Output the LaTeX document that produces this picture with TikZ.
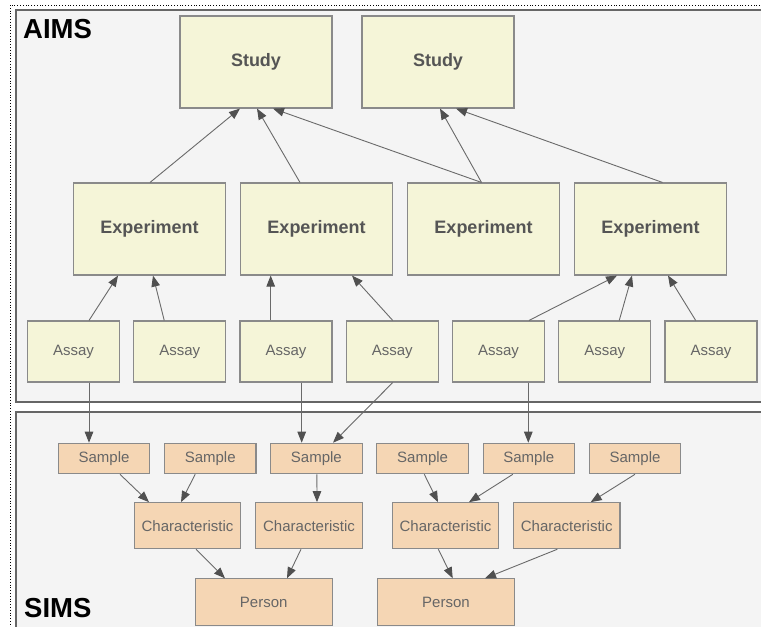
\documentclass[tikz,border=0pt]{standalone}
\usepackage{fontspec}
\setmainfont{Liberation Sans}
\usetikzlibrary{arrows.meta}
\definecolor{panelbg}{HTML}{F4F4F4}
\definecolor{panelline}{HTML}{666666}
\definecolor{aimsfill}{HTML}{F5F5D8}
\definecolor{simsfill}{HTML}{F5D6B4}
\definecolor{boxline}{HTML}{8A8A8A}
\definecolor{boxtext}{HTML}{555555}
\definecolor{linkline}{HTML}{6A6A6A}
\definecolor{linkhead}{HTML}{505050}
\tikzset{
  panel/.style={fill=panelbg, draw=panelline, line width=1.6pt},
  panellabel/.style={anchor=base west, inner sep=0pt, text=black,
    font=\fontsize{27.5}{30}\selectfont\bfseries},
  bigbox/.style={draw=boxline, line width=1.1pt, fill=aimsfill, text=boxtext,
    minimum width=152, minimum height=92, inner sep=0pt,
    font=\fontsize{18}{20}\selectfont\bfseries},
  assaybox/.style={draw=boxline, line width=1.1pt, fill=aimsfill, text=boxtext!90!white,
    minimum width=92, minimum height=61, inner sep=0pt,
    font=\fontsize{15}{17}\selectfont},
  simsbox/.style={draw=boxline, line width=1.1pt, fill=simsfill, text=boxtext!90!white,
    inner sep=0pt, font=\fontsize{15}{17}\selectfont},
  samplebox/.style={simsbox, minimum width=91.5, minimum height=30.5},
  charbox/.style={simsbox, minimum width=106.5, minimum height=46},
  personbox/.style={simsbox, minimum width=137, minimum height=46.3},
  link/.style={draw=linkline, line width=0.9pt,
    -{Triangle[length=11pt, width=8.5pt, fill=linkhead, color=linkhead]}},
}
\begin{document}
\begin{tikzpicture}[x=1pt, y=-1pt]
\useasboundingbox (0,0) rectangle (761,627);
\begin{scope}
\clip (0,0) rectangle (761,627);
\fill[white] (0,0) rectangle (761,627);
% outer dotted frame
\draw[black, line width=0.8pt, dotted] (10,5) rectangle (780,660);
% the two panels
\draw[panel] (16,10) rectangle (790,402);
\draw[panel] (16,412) rectangle (790,660);
\end{scope}
\node[panellabel] (aims) at (23,38) {AIMS};
\node[panellabel] (sims) at (24,617) {SIMS};

% studies
\node[bigbox] (st1) at (256,62) {Study};
\node[bigbox] (st2) at (438,62) {Study};

% experiments
\node[bigbox] (ex1) at (149.5,229) {Experiment};
\node[bigbox] (ex2) at (316.5,229) {Experiment};
\node[bigbox] (ex3) at (483.5,229) {Experiment};
\node[bigbox] (ex4) at (650.5,229) {Experiment};

% assays
\foreach \i/\x in {1/73.5, 2/179.75, 3/286, 4/392.25, 5/498.5, 6/604.75, 7/711}
  \node[assaybox] (as\i) at (\x,351.5) {Assay};

% samples
\foreach \i/\x in {1/104, 2/210.2, 3/316.4, 4/422.6, 5/528.8, 6/635}
  \node[samplebox] (sa\i) at (\x,458.5) {Sample};

% characteristics
\foreach \i/\x in {1/187.5, 2/309, 3/445.5, 4/566.7}
  \node[charbox] (ch\i) at (\x,525.7) {Characteristic};

% persons
\node[personbox] (pe1) at (263.7,602) {Person};
\node[personbox] (pe2) at (446,602) {Person};

% experiment -> study
\draw[link] ([xshift=0.5]ex1.north) -- ([xshift=-16]st1.south);
\draw[link] ([xshift=-16.5]ex2.north) -- ([xshift=1]st1.south);
\draw[link] ([xshift=-2]ex3.north) -- ([xshift=17]st1.south);
\draw[link] ([xshift=-2]ex3.north) -- ([xshift=2]st2.south);
\draw[link] ([xshift=12]ex4.north) -- ([xshift=18]st2.south);

% assay -> experiment
\draw[link] ([xshift=15.5]as1.north) -- ([xshift=-31.5]ex1.south);
\draw[link] ([xshift=-15.5]as2.north) -- ([xshift=3.5]ex1.south);
\draw[link] ([xshift=-15.3]as3.north) -- ([xshift=-45.8]ex2.south);
\draw[link] ([xshift=0.5]as4.north) -- ([xshift=35.5]ex2.south);
\draw[link] ([xshift=30.5]as5.north) -- ([xshift=-33.5]ex4.south);
\draw[link] ([xshift=14.5]as6.north) -- ([xshift=-18.5]ex4.south);
\draw[link] ([xshift=-15.3]as7.north) -- ([xshift=17.5]ex4.south);

% assay -> sample
\draw[link] ([xshift=15.5]as1.south) -- ([xshift=-15]sa1.north);
\draw[link] ([xshift=15.7]as3.south) -- ([xshift=-14.7]sa3.north);
\draw[link] ([xshift=0.5]as4.south) -- ([xshift=16.6]sa3.north);
\draw[link] ([xshift=29.8]as5.south) -- ([xshift=-0.5]sa5.north);

% sample -> characteristic
\draw[link] ([xshift=16]sa1.south) -- ([xshift=-38.5]ch1.north);
\draw[link] ([xshift=-15]sa2.south) -- ([xshift=-6.5]ch1.north);
\draw[link] ([xshift=0.5]sa3.south) -- ([xshift=8]ch2.north);
\draw[link] ([xshift=1.7]sa4.south) -- ([xshift=-7.5]ch3.north);
\draw[link] ([xshift=-16]sa5.south) -- ([xshift=23.5]ch3.north);
\draw[link] ([xshift=0]sa6.south) -- ([xshift=24]ch4.north);

% characteristic -> person
\draw[link] ([xshift=8.5]ch1.south) -- ([xshift=-38.7]pe1.north);
\draw[link] ([xshift=-8]ch2.south) -- ([xshift=23.3]pe1.north);
\draw[link] ([xshift=-7.2]ch3.south) -- ([xshift=6.7]pe2.north);
\draw[link] ([xshift=-9.4]ch4.south) -- ([xshift=39]pe2.north);
\end{tikzpicture}
\end{document}
